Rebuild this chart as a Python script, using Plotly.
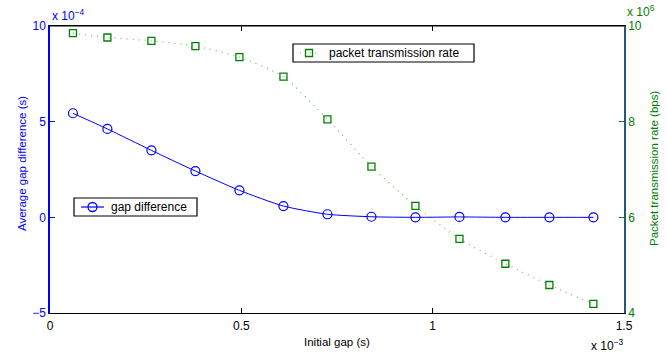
import plotly.graph_objects as go

# Initial gap (s)
initial_gap = [0.06e-3, 0.15e-3, 0.265e-3, 0.38e-3, 0.495e-3, 0.61e-3, 0.725e-3,
               0.84e-3, 0.955e-3, 1.07e-3, 1.19e-3, 1.305e-3, 1.42e-3]
# Average gap difference (s)
gap_difference = [5.44e-4, 4.62e-4, 3.50e-4, 2.42e-4, 1.41e-4, 0.59e-4, 0.16e-4,
                  0.03e-4, 0.0, 0.02e-4, 0.0, 0.0, 0.0]
# Packet transmission rate (bps)
tx_rate = [9.85e6, 9.76e6, 9.69e6, 9.58e6, 9.35e6, 8.94e6, 8.05e6,
           7.06e6, 6.24e6, 5.55e6, 5.03e6, 4.585e6, 4.19e6]

x_ticks = [0, 0.5e-3, 1.0e-3, 1.5e-3]
x_tick_text = ["0", "0.5", "1", "1.5"]
y1_ticks = [-5e-4, 0, 5e-4, 10e-4]
y1_tick_text = ["\u22125", "0", "5", "10"]
y2_ticks = [4e6, 6e6, 8e6, 10e6]
y2_tick_text = ["4", "6", "8", "10"]

BLUE = "#0000ff"
GREEN = "#008000"
DOTS = "rgba(0,140,0,0.55)"
FONT = "Liberation Sans, Arial, sans-serif"

W, H = 667, 354
ML, MR, MT, MB = 50, 43, 26, 41
PW, PH = W - ML - MR, H - MT - MB


def px(x):
    """Page pixel column -> paper x."""
    return (x - ML) / PW


def py(y):
    """Page pixel row -> paper y."""
    return (H - MB - y) / PH


fig = go.Figure()

fig.add_trace(go.Scatter(
    x=initial_gap, y=gap_difference, name="gap difference",
    mode="lines+markers", line=dict(color=BLUE, width=1, shape="spline", smoothing=0.6),
    marker=dict(symbol="circle-open", size=9, color=BLUE, line=dict(width=1.2)),
    yaxis="y",
))
fig.add_trace(go.Scatter(
    x=initial_gap, y=tx_rate, name="packet transmission rate",
    mode="lines+markers",
    line=dict(color=DOTS, width=1.3, dash="1px,5px", shape="spline", smoothing=0.6),
    marker=dict(symbol="square-open", size=7, color=GREEN, line=dict(width=1.3)),
    yaxis="y2",
))

fig.update_layout(
    width=W, height=H,
    margin=dict(l=ML, r=MR, t=MT, b=MB),
    paper_bgcolor="white", plot_bgcolor="white",
    font=dict(family=FONT, size=12, color="black"),
    showlegend=False,
    xaxis=dict(range=[0, 1.5e-3], tickvals=x_ticks, ticktext=x_tick_text,
               showgrid=False, zeroline=False, showline=True, linecolor="black",
               linewidth=1, mirror="ticks", ticks="inside", ticklen=5, tickcolor="black",
               ticklabelstandoff=2, tickfont=dict(size=12, color="black")),
    yaxis=dict(range=[-5e-4, 10e-4], tickvals=y1_ticks, ticktext=y1_tick_text,
               showgrid=False, zeroline=False, showline=True, linecolor=BLUE,
               linewidth=1.5, ticks="inside", ticklen=5, tickcolor=BLUE,
               tickfont=dict(size=12, color=BLUE)),
    yaxis2=dict(range=[4e6, 10e6], tickvals=y2_ticks, ticktext=y2_tick_text,
                overlaying="y", side="right",
                showgrid=False, zeroline=False, showline=True, linecolor="#1f5a78",
                linewidth=1.5, ticks="inside", ticklen=5, tickcolor="#1f5a78",
                tickfont=dict(size=12, color=GREEN)),
)

shapes = [
    # top border of the plotting box
    dict(type="line", xref="paper", yref="paper", x0=0, x1=1, y0=1, y1=1,
         line=dict(color="black", width=1)),
]

# legend boxes, drawn by hand so each series gets its own box
legend_specs = [
    dict(box=(293, 44, 474, 62), seg=(300, 318), sym="rect", color=GREEN,
         line_color=DOTS, dash="1px,4px", text="packet transmission rate", tx=327),
    dict(box=(74, 198, 197, 216), seg=(81, 104), sym="circle", color=BLUE,
         line_color=BLUE, dash="solid", text="gap difference", tx=109),
]
annotations = []
for spec in legend_specs:
    x0, y0, x1, y1 = spec["box"]
    ym = (y0 + y1) / 2
    shapes.append(dict(type="rect", xref="paper", yref="paper",
                       x0=px(x0), x1=px(x1), y0=py(y1), y1=py(y0),
                       line=dict(color="black", width=1.2), fillcolor="white", layer="above"))
    s0, s1 = spec["seg"]
    shapes.append(dict(type="line", xref="paper", yref="paper",
                       x0=px(s0), x1=px(s1), y0=py(ym), y1=py(ym),
                       line=dict(color=spec["line_color"], width=1.2, dash=spec["dash"]),
                       layer="above"))
    half = 3.5 if spec["sym"] == "rect" else 4.5
    shapes.append(dict(type=spec["sym"], xref="paper", yref="paper",
                       xsizemode="pixel", ysizemode="pixel",
                       xanchor=px((s0 + s1) / 2), yanchor=py(ym),
                       x0=-half, x1=half, y0=-half, y1=half,
                       line=dict(color=spec["color"], width=1.3), fillcolor="rgba(0,0,0,0)",
                       layer="above"))
    annotations.append(dict(text=spec["text"], x=px(spec["tx"]), y=py(ym),
                            xref="paper", yref="paper", xanchor="left", yanchor="middle",
                            showarrow=False, font=dict(size=12, color="black")))

annotations += [
    dict(text="x 10<sup>\u22124</sup>", x=0, y=1, xref="paper", yref="paper",
         xanchor="left", yanchor="bottom", yshift=1, showarrow=False,
         font=dict(size=12, color=BLUE)),
    dict(text="x 10<sup>6</sup>", x=1, y=1, xref="paper", yref="paper",
         xanchor="left", yanchor="bottom", yshift=5, xshift=1, showarrow=False,
         font=dict(size=12, color=GREEN)),
    dict(text="x 10<sup>\u22123</sup>", x=1, y=0, xref="paper", yref="paper",
         xanchor="right", yanchor="top", yshift=-22, xshift=2, showarrow=False,
         font=dict(size=12, color="black")),
    dict(text="Initial gap (s)", x=0.5, y=0, xref="paper", yref="paper",
         xanchor="center", yanchor="top", yshift=-21, showarrow=False,
         font=dict(size=11.5, color="black")),
    dict(text="Average gap difference (s)", x=0, y=py(164), xref="paper", yref="paper",
         xanchor="center", yanchor="middle", xshift=-28, textangle=-90, showarrow=False,
         font=dict(size=11.5, color=BLUE)),
    dict(text="Packet transmission rate (bps)", x=1, y=py(169), xref="paper", yref="paper",
         xanchor="center", yanchor="middle", xshift=30, textangle=-90, showarrow=False,
         font=dict(size=11.5, color=GREEN)),
]
fig.update_layout(shapes=shapes, annotations=annotations)

fig.write_html("out.html")
